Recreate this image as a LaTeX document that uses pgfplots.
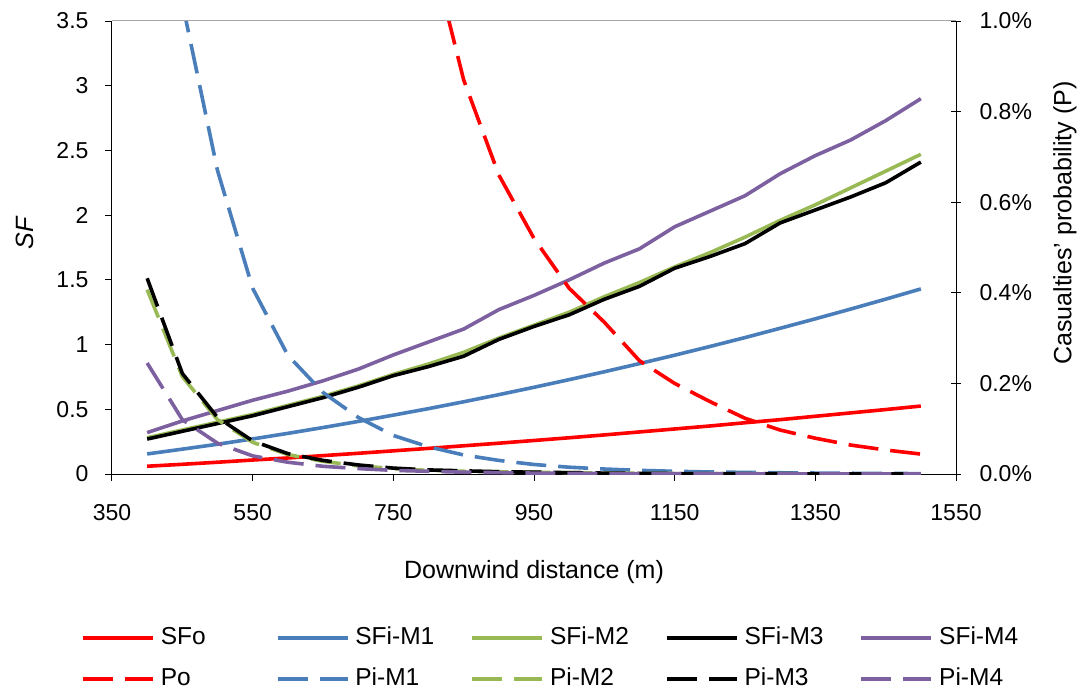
\documentclass[border=0pt]{standalone}
\usepackage{fontspec}
\setmainfont{Liberation Sans}
\usepackage{pgfplots}
\usepackage{pgfplotstable}
\pgfplotsset{compat=1.18}
\definecolor{cred}{RGB}{255,0,0}
\definecolor{cblue}{RGB}{74,126,187}
\definecolor{cgreen}{RGB}{152,185,84}
\definecolor{cpurple}{RGB}{125,96,160}
\tikzset{
  sol/.style={color=#1, line width=3.6pt, solid, line join=round},
  dsh/.style={color=#1, line width=3.6pt, dash pattern=on 30pt off 12pt, line join=round},
}
\pgfplotstableread{
x    SFo   M1    M2    M3    M4
400  0.060 0.155 0.28 0.27 0.32
450  0.075 0.192 0.34 0.33 0.41
500  0.091 0.230 0.40 0.39 0.49
550  0.108 0.271 0.46 0.45 0.57
600  0.124 0.314 0.53 0.52 0.64
650  0.142 0.359 0.60 0.59 0.72
700  0.160 0.406 0.68 0.67 0.81
750  0.179 0.455 0.77 0.76 0.92
800  0.198 0.505 0.85 0.83 1.02
850  0.218 0.558 0.94 0.91 1.12
900  0.238 0.613 1.05 1.04 1.27
950  0.259 0.670 1.15 1.14 1.38
1000 0.280 0.729 1.25 1.23 1.50
1050 0.302 0.790 1.37 1.35 1.63
1100 0.325 0.853 1.48 1.45 1.74
1150 0.348 0.918 1.60 1.59 1.91
1200 0.371 0.985 1.71 1.68 2.03
1250 0.396 1.054 1.83 1.78 2.15
1300 0.420 1.126 1.96 1.94 2.32
1350 0.446 1.199 2.08 2.04 2.46
1400 0.472 1.274 2.21 2.14 2.58
1450 0.498 1.351 2.34 2.25 2.73
1500 0.525 1.430 2.47 2.41 2.90
}\sftable
\pgfplotstableread{
x    Po    P1     P2     P3     P4
400  nan   nan    0.407  0.432  0.245
450  nan   1.04   0.215  0.222  0.120
500  nan   0.67   0.120  0.125  0.068
550  nan   0.41   0.070  0.073  0.040
600  nan   0.262  0.043  0.045  0.026
650  nan   0.180  0.028  0.030  0.017
700  nan   0.125  0.018  0.020  0.012
750  1.65  0.085  0.012  0.013  0.008
800  1.18  0.060  0.008  0.009  0.006
850  0.87  0.042  0.006  0.007  0.004
900  0.66  0.030  0.005  0.005  0.003
950  0.52  0.021  0.004  0.004  0.002
1000 0.41  0.015  0.003  0.003  0.0015
1050 0.335 0.011  0.002  0.002  0.001
1100 0.25  0.008  0.0015 0.0015 0.0008
1150 0.20  0.006  0.001  0.001  0.0006
1200 0.16  0.0045 0.0008 0.0008 0.0005
1250 0.123 0.0035 0.0006 0.0006 0.0004
1300 0.097 0.0027 0.0005 0.0005 0.0003
1350 0.079 0.0021 0.0004 0.0004 0.0002
1400 0.064 0.0016 0.0003 0.0003 0.0002
1450 0.053 0.0012 0.0002 0.0002 0.0001
1500 0.044 0.0009 0.0002 0.0002 0.0001
}\ptable
\pgfplotsset{
  base/.style={width=844pt, height=453pt, scale only axis, xmin=350, xmax=1550,
    /pgf/number format/assume math mode=true,
    /pgf/number format/1000 sep={},
    tick label style={font=\fontsize{23}{27}\selectfont},
    axis line style={line width=1pt, black},
    tick style={line width=1pt, black}},
}
\begin{document}
\begin{tikzpicture}
\useasboundingbox (-112pt,-215pt) rectangle (971pt,474pt);
\begin{axis}[base,
  axis x line*=bottom, axis y line*=left,
  ymin=0, ymax=3.5,
  ytick={0,0.5,1,1.5,2,2.5,3,3.5},
  xtick={350,550,750,950,1150,1350,1550},
  tick align=outside, major tick length=7pt,
  yticklabel style={xshift=-13pt},
  xticklabel style={yshift=-20pt},
  ylabel={\textit{SF}}, xlabel={Downwind distance (m)},
  every axis y label/.style={at={(axis description cs:0,0.532)}, xshift=-87pt, rotate=90, anchor=center, font=\fontsize{25}{30}\selectfont},
  every axis x label/.style={at={(axis description cs:0.5,0)}, anchor=center, yshift=-98pt, font=\fontsize{25}{30}\selectfont},
]
\addplot[sol=cred] table[x=x,y=SFo]{\sftable};
\addplot[sol=cblue] table[x=x,y=M1]{\sftable};
\addplot[sol=cgreen] table[x=x,y=M2]{\sftable};
\addplot[sol=black] table[x=x,y=M3]{\sftable};
\addplot[sol=cpurple] table[x=x,y=M4]{\sftable};
\end{axis}
\begin{axis}[base,
  axis x line=none, axis y line*=right,
  ymin=0, ymax=1,
  ytick={0,0.2,0.4,0.6,0.8,1.0},
  yticklabel={\pgfmathprintnumber[fixed,fixed zerofill,precision=1]{\tick}\%},
  yticklabel style={xshift=15pt},
  tick align=center, major tick length=10pt,
  ylabel={Casualties' probability (P)},
  every axis y label/.style={at={(axis description cs:1,0.554)}, xshift=109pt, rotate=90, anchor=center, font=\fontsize{25}{30}\selectfont},
  legend columns=5,
  legend image code/.code={\draw[#1] (0pt,0pt) -- (70pt,0pt);},
  legend style={at={(axis description cs:0,0)}, anchor=north west, xshift=-31pt, yshift=-152pt,
    draw=none, fill=none, inner sep=0pt,
    font=\fontsize{24.5}{29}\selectfont,
    nodes={inner sep=0pt, text height=18pt, text depth=6pt},
    /tikz/every odd column/.style={column sep=6pt},
    /tikz/every even column/.style={column sep=0pt},
    row sep=17pt},
  legend cell align=left,
]
\addlegendimage{sol=cred}\addlegendentry{\makebox[115pt][l]{SFo}}
\addlegendimage{sol=cblue}\addlegendentry{\makebox[115pt][l]{SFi-M1}}
\addlegendimage{sol=cgreen}\addlegendentry{\makebox[115pt][l]{SFi-M2}}
\addlegendimage{sol=black}\addlegendentry{\makebox[115pt][l]{SFi-M3}}
\addlegendimage{sol=cpurple}\addlegendentry{\makebox[115pt][l]{SFi-M4}}
\addplot[dsh=cred] table[x=x,y=Po]{\ptable};\addlegendentry{\makebox[115pt][l]{Po}}
\addplot[dsh=cblue] table[x=x,y=P1]{\ptable};\addlegendentry{\makebox[115pt][l]{Pi-M1}}
\addplot[dsh=cgreen] table[x=x,y=P2]{\ptable};\addlegendentry{\makebox[115pt][l]{Pi-M2}}
\addplot[dsh=black] table[x=x,y=P3]{\ptable};\addlegendentry{\makebox[115pt][l]{Pi-M3}}
\addplot[dsh=cpurple] table[x=x,y=P4]{\ptable};\addlegendentry{\makebox[115pt][l]{Pi-M4}}
\end{axis}
\draw[gray!70, line width=1pt] (current axis.north west) -- (current axis.north east);
\end{tikzpicture}
\end{document}
